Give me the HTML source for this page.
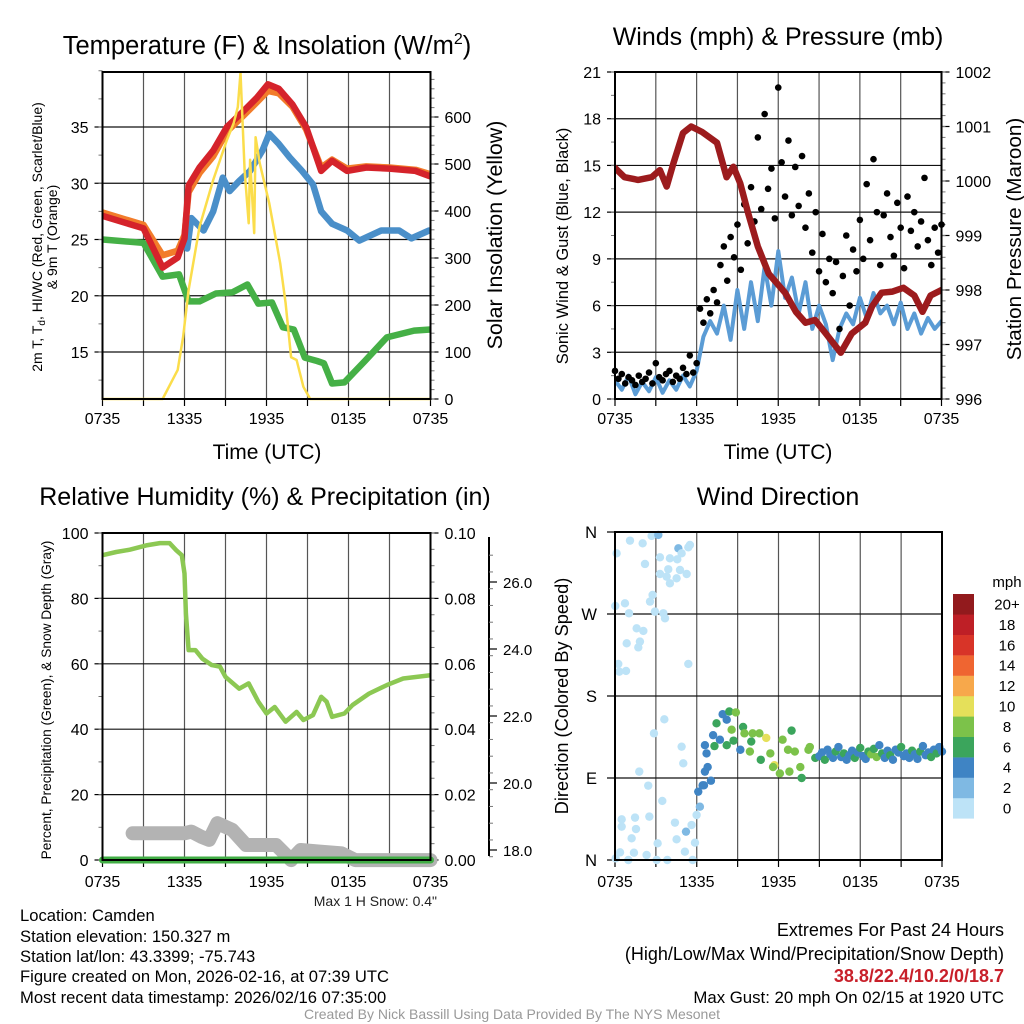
<!DOCTYPE html>
<html><head><meta charset="utf-8"><style>
html,body{margin:0;padding:0;background:#fff;}
svg{display:block;font-family:"Liberation Sans",Arial,sans-serif;}
</style></head><body>
<svg id="chart" width="1024" height="1024" viewBox="0 0 1024 1024" xmlns="http://www.w3.org/2000/svg">
<rect width="1024" height="1024" fill="#fff"/>
<text x="267" y="54" font-size="25.5" text-anchor="middle">Temperature (F) &amp; Insolation (W/m<tspan font-size="16" dy="-10">2</tspan><tspan dy="10">)</tspan></text>
<text x="778" y="45" font-size="25" text-anchor="middle">Winds (mph) &amp; Pressure (mb)</text>
<text x="265" y="505" font-size="25" text-anchor="middle">Relative Humidity (%) &amp; Precipitation (in)</text>
<text x="778" y="505" font-size="25" text-anchor="middle">Wind Direction</text>

<text x="267" y="459" font-size="21" text-anchor="middle">Time (UTC)</text>
<text x="778" y="459" font-size="21" text-anchor="middle">Time (UTC)</text>

<text transform="translate(42,237) rotate(-90)" font-size="14" text-anchor="middle">2m T, T<tspan font-size="10" dy="3">d</tspan><tspan dy="-3">, HI/WC (Red, Green, Scarlet/Blue)</tspan></text>
<text transform="translate(57,237) rotate(-90)" font-size="14" text-anchor="middle">&amp; 9m T (Orange)</text>
<text transform="translate(502,235) rotate(-90)" font-size="21.4" text-anchor="middle">Solar Insolation (Yellow)</text>
<text transform="translate(568,246) rotate(-90)" font-size="16.5" text-anchor="middle">Sonic Wind &amp; Gust (Blue, Black)</text>
<text transform="translate(1021,239) rotate(-90)" font-size="20.7" text-anchor="middle">Station Pressure (Maroon)</text>
<text transform="translate(51,700) rotate(-90)" font-size="13.7" text-anchor="middle">Percent, Precipitation (Green), &amp; Snow Depth (Gray)</text>
<text transform="translate(568,696) rotate(-90)" font-size="18.2" text-anchor="middle">Direction (Colored By Speed)</text>
<text x="437" y="906" font-size="14" text-anchor="end" fill="#222">Max 1 H Snow: 0.4"</text>

<g font-size="16.6" fill="#000">
<text x="20" y="921">Location: Camden</text>
<text x="20" y="942">Station elevation: 150.327 m</text>
<text x="20" y="962">Station lat/lon: 43.3399; -75.743</text>
<text x="20" y="982">Figure created on Mon, 2026-02-16, at 07:39 UTC</text>
<text x="20" y="1003">Most recent data timestamp: 2026/02/16 07:35:00</text>
</g>
<g font-size="18" text-anchor="end">
<text x="1004" y="936">Extremes For Past 24 Hours</text>
<text x="1004" y="960">(High/Low/Max Wind/Precipitation/Snow Depth)</text>
<text x="1004" y="982" fill="#c8202a" font-weight="bold">38.8/22.4/10.2/0/18.7</text>
<text x="1004" y="1003" font-size="16.8">Max Gust: 20 mph On 02/15 at 1920 UTC</text>
</g>
<text x="512" y="1019" font-size="14" text-anchor="middle" fill="#999">Created By Nick Bassill Using Data Provided By The NYS Mesonet</text>
<g id="layer"></g>
</svg>
<script>
// ---------- DATA ----------
const redHours = [0,3,4.4,5.5,6,6.3,7.1,8.1,9.1,10.3,11.3,12.1,12.9,13.9,14.9,16,16.8,17.9,19.3,21,22.9,24];
const redTemp  = [27.1,26.0,22.5,23.4,25.1,29.8,31.4,32.9,35.0,36.4,37.6,38.8,38.4,37.0,35.0,31.1,32.0,31.1,31.4,31.3,31.1,30.6];
const orangeHours = [0,3,4.4,5.5,6,6.3,7.1,8.1,9.1,10.3,11.3,12.1,12.9,13.9,14.9,16,16.8,17.9,19.3,21,22.9,24];
const orangeTemp  = [27.4,26.3,23.6,24.0,25.4,29.2,30.9,32.4,34.6,36.0,37.2,38.2,38.0,36.8,34.8,31.4,32.1,31.3,31.5,31.4,31.2,30.8];
const blueHours = [6.2,6.5,7.4,8.1,8.8,9.3,10,10.8,11.7,12.2,12.9,13.7,14.6,15.4,16,16.8,17.9,18.8,20.4,21.7,22.6,23.9];
const blueTemp  = [24.2,26.9,25.8,27.5,30.5,29.3,30.2,31.1,32.9,34.4,33.5,32.3,31.1,29.9,27.5,26.4,25.8,24.9,25.8,25.8,25.1,25.8];
const greenHours = [0,3,4.4,5.6,6.3,7.1,8.3,9.5,10.6,11.4,12.4,13.2,14,14.8,15.7,16.2,16.8,17.7,19.2,20.8,22.8,24];
const greenTemp  = [25.0,24.7,21.7,21.9,19.5,19.5,20.2,20.3,21.0,19.3,19.4,17.2,17.0,14.5,14.2,14.0,12.2,12.3,14.2,16.3,16.9,17.0];
const solarHours = [0,4.4,5.5,5.9,6.3,7.1,8.1,9.1,9.6,9.9,10.1,10.4,10.7,10.8,11.1,11.2,11.5,12.2,13,13.4,13.8,14.2,14.7,15.2,24];
const solarVals  = [0,0,62,132,232,366,466,551,587,621,694,487,374,509,353,557,502,417,289,204,89,83,26,0,0];
const tempTicks = [15,20,25,30,35];
const solarTicks = [0,100,200,300,400,500,600];
const timeTickLabels = ["0735","1335","1935","0135","0735"];

const pressHours = [0,0.7,1.7,2.7,3.3,3.8,4.3,5,5.6,6.4,7.5,8.2,8.7,9.2,9.8,10.5,11.3,12.5,13.3,14,14.7,15.5,16.6,17.4,18.4,18.9,19.6,20.4,21.2,22,22.6,23.2,24];
const pressVals  = [1000.24,1000.07,1000.02,1000.07,1000.2,999.9,1000.33,1000.88,1001.0,1000.9,1000.7,1000.07,1000.26,999.96,999.4,998.8,998.3,997.95,997.6,997.4,997.45,997.2,996.85,997.2,997.4,997.7,997.95,997.97,998.04,997.9,997.6,997.9,998.0];
const windVals = [1.2,0.6,1.5,0.3,1.1,0.5,1.4,0.4,1.2,0.6,1.5,0.8,1.8,4.0,5.0,4.2,6.0,3.8,7.0,4.5,7.5,5.0,8.5,6.0,9.5,6.5,7.8,5.5,7.5,4.5,6.0,4.8,2.5,4.5,5.5,4.8,6.5,5.2,6.8,5.5,6.0,4.8,6.2,4.5,5.5,4.2,5.2,4.5,5.0];
const gustVals = [1.8,1.3,1.6,1.0,1.4,1.2,0.9,1.5,1.1,1.3,1.7,1.0,2.3,1.4,1.2,1.6,1.8,1.1,1.5,1.3,2.0,1.6,2.8,1.7,
 2.3,5.8,4.9,6.4,5.5,7.0,6.2,8.6, 9.8,7.6,10.4,9.1,11.2,8.3,12.5,10.0, 13.6,11.4,16.8,12.2,18.3,13.5,14.8,11.6,
 20.0,15.2,13.0,16.6,11.8,14.9,12.4,15.6, 11.0,13.2,9.4,12.0,8.2,10.6,7.5,9.0, 6.8,8.8,4.5,7.9,10.5,6.0,9.6,8.2,
 11.5,9.0,13.8,10.2,15.4,12.0,8.6,11.8, 13.2,10.4,9.2,12.6,11.0,8.4,13.0,10.8, 12.0,9.8,11.4,14.2,10.2,8.6,11.0,9.4, 11.2];
const windTicks = [0,3,6,9,12,15,18,21];
const pressTicks = [996,997,998,999,1000,1001,1002];

const rhHours = [0,1,2,3.2,4.2,4.9,5.4,5.8,6,6.1,6.3,6.8,7.3,8,8.6,9,10,10.7,11.4,12,12.6,13.4,14.2,14.7,15.4,16,16.4,16.8,17.7,18.3,19.5,20.8,22,24];
const rhVals  = [93.2,94.2,94.9,96.2,96.9,96.9,94.7,93.2,87.6,75.4,64.2,64.2,61.6,59.6,59.1,56,52.4,54,48.4,44.8,46.8,42.3,45.3,42.8,44.3,49.9,48.4,43.8,44.8,47.4,50.9,53.5,55.5,56.5];
const snowHours = [2.2,6,6.5,7.2,7.8,8.4,9.5,10.5,12.7,13.8,14.5,16,17.5,18.5,24];
const snowVals  = [18.5,18.5,18.55,18.4,18.3,18.8,18.6,18.15,18.15,17.7,18.0,17.95,17.9,17.7,17.7];
const precipHours = [0,24];
const precipVals = [0,0];
const rhTicks = [0,20,40,60,80,100];
const precipTicks = ["0.00","0.02","0.04","0.06","0.08","0.10"];
const snowTicks = [18,20,22,24,26];

const dirHours = [0.12,1.10,2.03,2.69,3.18,2.20,3.30,4.03,4.65,4.89,5.50,5.38,4.57,3.91,4.52,3.30,3.79,4.03,4.77,5.26,2.76,2.57,2.93,3.55,3.67,0.02,0.73,1.03,1.59,2.08,1.83,0.86,1.71,0.24,0.32,0.81,5.38,3.62,2.86,4.89,5.01,1.78,2.44,3.47,0.49,1.47,0.49,1.54,2.52,1.22,4.40,4.52,5.62,5.21,5.99,5.87,0.37,1.39,2.32,3.13,0.98,3.06,3.84,5.70,5.13,0.05,
 6.11,6.23,6.43,6.53,6.6,6.8,7.04,6.72,6.6,7.2,7.45,7.9,8.39,8.87,8.2,7.7,7.3,8.2,8.7,9.2,9.4,8.56,9.5,10.0,10.1,10.6,11.1,9.9,10.7,11.4,11.7,12.1,12.8,11.6,12.96,12.3,12.7,13.2,13.6,14.2,13.7,14.7,14.3,
 15.0,15.2,15.4,15.6,15.8,16.0,16.2,16.4,16.6,16.8,17.0,17.2,17.4,17.6,17.8,18.0,18.2,18.4,18.6,18.8,19.0,19.2,19.4,19.6,19.8,20.0,20.2,20.4,20.6,20.8,21.0,21.2,21.4,21.6,21.8,22.0,22.2,22.4,22.6,22.8,23.0,23.2,23.4,23.6,23.8,24.0];
const dirVals = [336.6,350.5,347.6,355.7,356.8,324.9,332.2,331.1,342.1,336.6,345.8,343.2,330.0,319.1,309.2,313.9,311.0,303.7,318.3,313.9,290.9,283.6,272.6,270.8,265.3,278.8,281.7,270.8,254.3,251.4,239.7,237.8,233.4,215.2,206.7,207.5,215.2,154.4,139.0,124.4,106.1,97.0,81.6,64.8,44.6,46.5,36.6,34.0,47.6,23.8,41.0,22.7,38.4,31.1,49.4,19.0,8.4,8.0,5.5,18.3,0,0,0,0,9.1,1.8,
 75,58.5,82,82,97,102,87,117,126,137,150,160,163,162,154,132,125,126,131,121,146,143,139,130,139,139,134,119,110,117,104,95,97,102,142,132,121,119,102,121,90,112,124,
 114,118,110,121,116,112,119,124,113,117,110,115,120,112,118,123,114,111,119,116,122,113,126,117,112,120,115,110,121,118,124,114,117,112,120,116,111,119,125,115,118,113,121,117,124,119];
const dirSpeeds = [1,1,1,1,3,1,1,1,3,1,1,1,1,1,1,1,1,1,1,1,1,1,1,1,1,1,1,1,1,1,1,1,1,1,1,1,1,1,1,1,1,1,1,1,1,1,1,1,1,1,1,1,1,3,1,1,1,1,1,1,1,1,1,1,1,1,
 5,3,5,5,5,5,5,5,5,5,7,5,7,9,5,5,7,7,7,5,7,9,9,7,9,9,11,9,7,9,11,9,9,9,7,9,9,9,9,9,7,7,9,
 5,5,7,5,5,5,7,5,5,7,5,5,5,7,5,7,5,5,7,9,7,9,5,7,5,5,7,5,5,5,7,5,5,5,7,5,5,7,5,5,5,7,5,7,5,5];
const dirTickLabels = ["N","E","S","W","N"];
const speedBins = ["0","2","4","6","8","10","12","14","16","18","20+"];
const speedColors = ["#bde3f7","#7fb9e3","#3f84c4","#3ba55c","#7cc24a","#e5e05a","#f7a84b","#ef6531","#d83428","#be1f26","#921a1d"];

// ---------- SCALES ----------
const NS="http://www.w3.org/2000/svg";
const layer=document.getElementById('layer');
function mk(tag, attrs, parent){const e=document.createElementNS(NS,tag);for(const k in attrs)e.setAttribute(k,attrs[k]);(parent||layer).appendChild(e);return e;}
const P1={x0:102.5,x1:430.5,y0:72,y1:399,ly:424};
const P2={x0:615,x1:941.5,y0:72,y1:399,ly:424};
const P3={x0:102.5,x1:430.5,y0:533,y1:860,ly:887};
const P4={x0:615,x1:942,y0:532,y1:860,ly:887};
const xOf=(P,h)=>P.x0+h*(P.x1-P.x0)/24;
const yTemp=t=>127+(35-t)*11.25;
const ySolar=v=>399-v*0.47;
const yWind=v=>399-v*(327/21);
const yPress=p=>399-(p-996)*(327/6);
const yRH=v=>860-v*3.27;
const ySnow=s=>850-(s-18)*33.5;
const yDir=d=>860-d*328/360;

function pathFrom(P,hs,vs,yf){return hs.map((h,i)=>(i?'L':'M')+xOf(P,h).toFixed(1)+','+yf(vs[i]).toFixed(1)).join('');}

function grid(P,name,hvals,yf){
  for(let k=1;k<8;k++){const x=xOf(P,k*3);
    const l=mk('line',{x1:x,x2:x,y1:P.y0,y2:P.y1,stroke:'#555','stroke-width':1.2});
    
    }
  hvals.forEach(v=>{const y=yf(v);
    const l=mk('line',{x1:P.x0,x2:P.x1,y1:y,y2:y,stroke:'#111','stroke-width':1.2});
    
    });
  for(let k=0;k<=8;k++){const x=xOf(P,k*3);
    const t=mk('line',{x1:x,x2:x,y1:P.y1,y2:P.y1+7,stroke:'#000','stroke-width':1.2});
    
    
    if(k%2===0){const tx=mk('text',{x:x,y:P.ly,'font-size':16,'text-anchor':'middle'});tx.textContent=timeTickLabels[k/2];
      
      }}
}
function frame(P,name){const r=mk('rect',{x:P.x0,y:P.y0,width:P.x1-P.x0,height:P.y1-P.y0,fill:'none',stroke:'#000','stroke-width':2});
  
  }
function yAxis(x,dir,vals,yf,labels,name,minorVals,fs){
  vals.forEach((v,i)=>{const y=yf(v);
    const t=mk('line',{x1:x,x2:x+dir*8,y1:y,y2:y,stroke:'#000','stroke-width':1.2});
    
    
    const tx=mk('text',{x:x+dir*14,y:y+6,'font-size':fs||16,'text-anchor':dir<0?'end':'start'});tx.textContent=labels[i];
    
    });
  (minorVals||[]).forEach(v=>{const y=yf(v);
    const t=mk('line',{x1:x,x2:x+dir*4,y1:y,y2:y,stroke:'#777','stroke-width':1});
    
    });
}
function range(a,b,s){const r=[];for(let v=a;v<=b+1e-9;v+=s)r.push(+v.toFixed(3));return r;}

grid(P1,'temp',tempTicks,yTemp);
yAxis(P1.x0,-1,tempTicks,yTemp,tempTicks.map(String),'temp-y',range(12.5,40,2.5));
yAxis(P1.x1,1,solarTicks,ySolar,solarTicks.map(String),'solar-y',range(0,690,20));
grid(P2,'wind',windTicks.slice(1,-1),yWind);
yAxis(P2.x0,-1,windTicks,yWind,windTicks.map(String),'wind-y',range(0,21,1.5));
yAxis(P2.x1,1,pressTicks,yPress,pressTicks.map(String),'pressure-y',range(996,1002,0.2));
grid(P3,'rh',rhTicks.slice(1,-1),yRH);
yAxis(P3.x0,-1,rhTicks,yRH,rhTicks.map(String),'rh-y',range(0,100,10));
yAxis(P3.x1,1,rhTicks,yRH,precipTicks,'precip-y',range(0,100,5));
{const l=mk('line',{x1:489,x2:489,y1:537,y2:856,stroke:'#000','stroke-width':2});
 
 }
yAxis(489,1,snowTicks,ySnow,snowTicks.map(v=>v.toFixed(1)),'snow-y',range(17.8,27,0.5),15);
grid(P4,'dir',[90,180,270],yDir);
[0,90,180,270,360].forEach((d,i)=>{const y=yDir(d);
  const t=mk('line',{x1:P4.x0-8,x2:P4.x0,y1:y,y2:y,stroke:'#000','stroke-width':1.2});
  
  
  const tx=mk('text',{x:597,y:y+6,'font-size':16.5,'text-anchor':'end'});tx.textContent=dirTickLabels[i];
  
  });

function clip(P,id){const c=mk('clipPath',{id:id});mk('rect',{x:P.x0,y:P.y0-2,width:P.x1-P.x0,height:P.y1-P.y0+4},c);return 'url(#'+id+')';}
const c1=clip(P1,'c1'),c2=clip(P2,'c2'),c3=clip(P3,'c3');
function line(P,hs,vs,yf,color,w,name,cp){const p=mk('path',{d:pathFrom(P,hs,vs,yf),fill:'none',stroke:color,'stroke-width':w,'stroke-linejoin':'round','stroke-linecap':'round'});
  if(cp)p.setAttribute('clip-path',cp);
  
  return p;}
line(P1,greenHours,greenTemp,yTemp,'#45b046',6.5,'dewpoint-line',c1);
line(P1,blueHours,blueTemp,yTemp,'#4a8fc9',6.5,'wind-chill-line',c1);
line(P1,orangeHours,orangeTemp,yTemp,'#f27c2a',6.5,'temp-9m-line',c1);
line(P1,redHours,redTemp,yTemp,'#d5232b',6.5,'temp-2m-line',c1);
line(P1,solarHours,solarVals,ySolar,'#fbdd4b',2.5,'solar-insolation-line',c1);

const windHours=windVals.map((v,i)=>i*0.5);
line(P2,windHours,windVals,yWind,'#5b9cd5',4,'sonic-wind-line',c2);
gustVals.forEach((v,i)=>{const c=mk('circle',{cx:xOf(P2,i*0.25),cy:yWind(v),r:3.3,fill:'#000'});
  
  });
line(P2,pressHours,pressVals,yPress,'#9c1b1d',6.5,'pressure-line',c2);

line(P3,snowHours,snowVals,ySnow,'#b3b3b3',14,'snow-depth-line',null);
line(P3,rhHours,rhVals,yRH,'#8cc853',4.5,'relative-humidity-line',c3);
line(P3,precipHours,precipVals,yRH,'#41ad45',7,'precipitation-line',null);

dirVals.forEach((d,i)=>{const s=dirSpeeds[i];const bin=Math.min(10,Math.floor(s/2));
  const c=mk('circle',{cx:xOf(P4,dirHours[i]),cy:yDir(d),r:4.2,fill:speedColors[bin]});
  
  });

{const t=mk('text',{x:1007,y:587,'font-size':15,'text-anchor':'middle'});t.textContent='mph';
 
 }
speedBins.forEach((lab,i)=>{const y=594+(10-i)*20.4;
  const r=mk('rect',{x:953,y:y,width:21,height:20.6,fill:speedColors[i]});
  
  
  const t=mk('text',{x:1007,y:y+15.5,'font-size':15,'text-anchor':'middle'});t.textContent=lab;
  
  });

frame(P1,'temp');frame(P2,'wind');frame(P3,'rh');frame(P4,'dir');
</script>
</body></html>
